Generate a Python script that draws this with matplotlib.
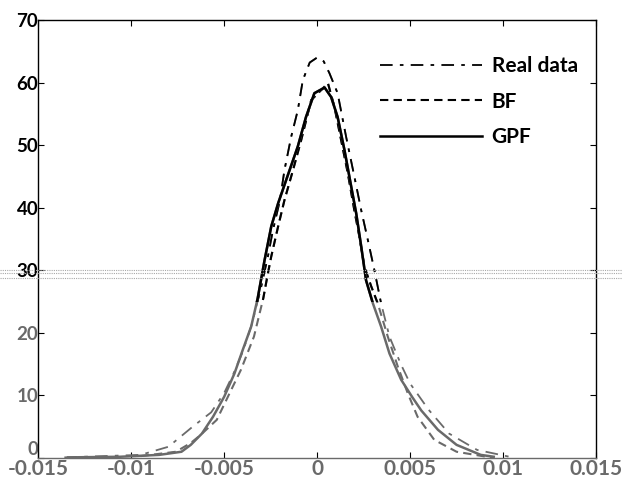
import numpy as np
import matplotlib
matplotlib.use("Agg")
import matplotlib.pyplot as plt
from matplotlib.patches import Rectangle
from matplotlib.lines import Line2D

plt.rcParams['font.family'] = ['Lato', 'DejaVu Sans']
plt.rcParams['font.weight'] = 'bold'

# values
real_x = [-0.0136, -0.0095, -0.008, -0.0067, -0.0057, -0.005, -0.0045, -0.004, -0.0035,
          -0.003, -0.00265, -0.00238, -0.002, -0.00176, -0.0014, -0.00104, -0.00077, -0.0004,
          0.0, 0.00035, 0.00066, 0.0011, 0.00156, 0.002, 0.00237, 0.00273, 0.00308, 0.00344,
          0.00389, 0.0045, 0.005, 0.006, 0.0071, 0.0086, 0.0105]
real_y = [0.1, 0.5, 1.8, 5.0, 7.3, 10.4, 13.5, 17.0, 21.5,
          27.5, 32.2, 36.4, 41.2, 46.0, 51.3, 55.6, 60.4, 63.2,
          64.0, 63.4, 61.5, 58.3, 51.3, 45.0, 39.6, 34.8, 30.0, 24.7,
          19.4, 15.0, 11.9, 7.7, 3.9, 1.3, 0.1]

bf_x = [-0.0095, -0.0076, -0.0068, -0.0063, -0.0054, -0.0048, -0.0041, -0.0034, -0.0029,
        -0.00265, -0.00247, -0.0021, -0.00176, -0.0013, -0.00086, -0.00032, 0.00058, 0.00093,
        0.00129, 0.00165, 0.002, 0.00227, 0.00254, 0.0029, 0.00326, 0.0038, 0.00434,
        0.00488, 0.0054, 0.0063, 0.0075, 0.0095]
bf_y = [0.3, 1.0, 2.4, 3.6, 6.1, 9.8, 14.1, 19.4, 25.5,
        29.5, 32.2, 37.0, 41.2, 46.0, 50.8, 57.2, 59.9, 56.1,
        50.8, 45.5, 39.6, 35.4, 30.6, 27.5, 24.7, 19.4, 14.6,
        10.3, 6.6, 2.9, 1.0, 0.0]

gpf_x = [-0.0134, -0.0106, -0.0085, -0.0073, -0.0068, -0.0062, -0.0056, -0.005, -0.00445,
         -0.004, -0.00355, -0.0032, -0.00283, -0.00247, -0.0021, -0.00167, -0.00104, -0.0006,
         -0.00015, 0.0004, 0.00075, 0.0011, 0.00147, 0.00183, 0.0021, 0.00237, 0.00263,
         0.003, 0.00344, 0.00389, 0.00452, 0.0051, 0.0056, 0.0065, 0.0075, 0.0088, 0.0095]
gpf_y = [0.1, 0.2, 0.5, 1.0, 2.1, 3.9, 6.6, 9.8, 13.5,
         17.3, 21.0, 25.5, 31.6, 37.0, 40.7, 44.4, 49.8, 54.5,
         58.3, 59.2, 57.7, 54.5, 49.2, 43.4, 39.1, 33.8, 28.4,
         24.7, 21.0, 16.7, 12.5, 9.8, 7.6, 4.5, 2.1, 0.5, 0.2]

x_ticks = [-0.015, -0.01, -0.005, 0, 0.005, 0.01, 0.015]
x_labels = ['-0.015', '-0.01', '-0.005', '0', '0.005', '0.01', '0.015']
y_ticks = [0, 10, 20, 30, 40, 50, 60, 70]

series = [
    (real_x, real_y, 'Real data', dict(linestyle=(0, (7, 4, 2, 4)), lw=1.3)),
    (bf_x, bf_y, 'BF', dict(linestyle=(0, (4, 2.5)), lw=1.5)),
    (gpf_x, gpf_y, 'GPF', dict(linestyle='-', lw=1.8)),
]

GREY = '#6a6a6a'
SPLIT = 25.0    # scan turns grey below this level

fig = plt.figure(figsize=(6.22, 4.84), dpi=100)
ax = fig.add_axes([0.0616, 0.0537, 0.8966, 0.905])

handles = []
for xs, ys, name, st in series:
    ax.plot(xs, ys, color=GREY, **st)
    ln, = ax.plot(xs, ys, color='black', **st)
    ln.set_clip_path(Rectangle((-0.015, SPLIT), 0.03, 50, transform=ax.transData))
    handles.append(Line2D([], [], color='black', **st))

ax.set_xlim(-0.015, 0.015)
ax.set_ylim(0, 70)
ax.set_xticks(x_ticks)
ax.set_xticklabels(x_labels)
ax.set_yticks(y_ticks)
ax.tick_params(direction='in', top=True, right=True, length=4)
ax.tick_params(axis='y', pad=0, labelsize=13.5)
ax.tick_params(axis='x', pad=1, labelsize=15)
for lab in ax.get_xticklabels():
    lab.set_color(GREY)
for lab, v in zip(ax.get_yticklabels(), y_ticks):
    lab.set_color(GREY if v < 30 else 'black')
# the "0" on the y axis sits just above the corner
ax.get_yticklabels()[0].set_verticalalignment('bottom')
for sp in ax.spines.values():
    sp.set_linewidth(1.0)
ax.spines['bottom'].set_color(GREY)

ax.legend(handles, [s[2] for s in series], loc='upper left', bbox_to_anchor=(0.613, 0.918),
          frameon=False, borderpad=0, borderaxespad=0, handlelength=4.9, labelspacing=0.75,
          handletextpad=0.45, prop={'size': 15, 'weight': 'bold'})

# dotted fold band from the scan
for yf in (0.443, 0.435, 0.426):
    fig.add_artist(Line2D([0, 1], [yf, yf], transform=fig.transFigure,
                          color='#a8a8a8', lw=0.8, linestyle=(0, (1, 1))))

fig.savefig('out.png', dpi=100)
